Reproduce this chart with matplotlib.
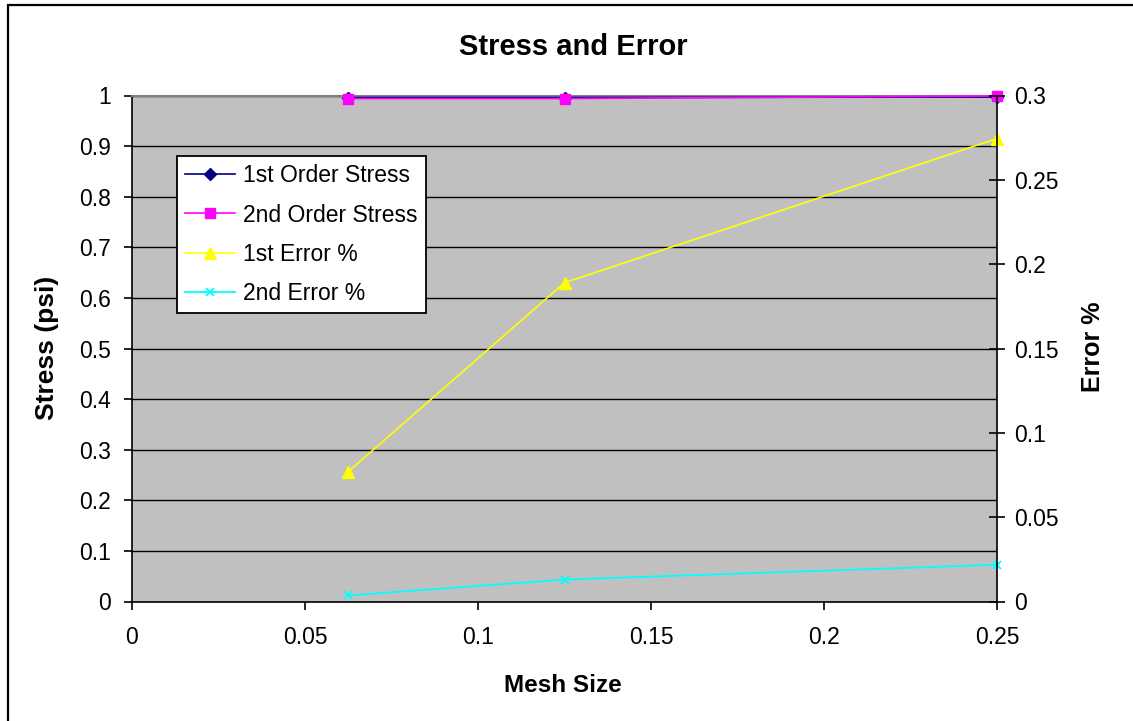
import matplotlib.pyplot as plt
from matplotlib.patches import Rectangle

plt.rcParams['font.family'] = ['Liberation Sans', 'DejaVu Sans']

mesh_size = [0.0625, 0.125, 0.25]
stress_1st = [0.996, 0.996, 0.997]
stress_2nd = [0.994, 0.994, 0.999]
error_1st = [0.077, 0.189, 0.2745]
error_2nd = [0.0036, 0.013, 0.0218]

x_ticks = [0, 0.05, 0.1, 0.15, 0.2, 0.25]
x_labels = ['0', '0.05', '0.1', '0.15', '0.2', '0.25']
left_ticks = [0, 0.1, 0.2, 0.3, 0.4, 0.5, 0.6, 0.7, 0.8, 0.9, 1]
left_labels = ['0', '0.1', '0.2', '0.3', '0.4', '0.5', '0.6', '0.7', '0.8', '0.9', '1']
right_ticks = [0, 0.05, 0.1, 0.15, 0.2, 0.25, 0.3]
right_labels = ['0', '0.05', '0.1', '0.15', '0.2', '0.25', '0.3']

W, H = 1133, 721
fig = plt.figure(figsize=(W / 100, H / 100), dpi=100)
# chart border
fig.patches.append(Rectangle((8 / W, -0.01), 1.1, 1 - 5 / H + 0.01,
                             transform=fig.transFigure, fill=False,
                             edgecolor='black', linewidth=1.6))

ax = fig.add_axes([132 / W, 1 - 601.5 / H, 865 / W, 506 / H])
ax.set_facecolor('#c0c0c0')
ax.set_xlim(0, 0.25)
ax.set_ylim(0, 1)
for y in left_ticks[1:]:
    ax.axhline(y, color='black', linewidth=1, zorder=1)
ax.spines['top'].set_color('#808080')
ax.spines['top'].set_linewidth(1.5)
ax.spines['right'].set_visible(False)
ax.spines['bottom'].set_linewidth(1.2)
ax.spines['left'].set_linewidth(1.2)

l1, = ax.plot(mesh_size, stress_1st, color='#000080', marker='D', markersize=6,
              linewidth=1.2, label='1st Order Stress', zorder=3, clip_on=False)
l2, = ax.plot(mesh_size, stress_2nd, color='#ff00ff', marker='s', markersize=6.5,
              linewidth=1.2, label='2nd Order Stress', zorder=4, clip_on=False)

ax.set_xticks(x_ticks)
ax.set_xticklabels(x_labels)
ax.set_yticks(left_ticks)
ax.set_yticklabels(left_labels)
ax.tick_params(axis='y', direction='out', length=6, width=1.2, labelsize=16.5, pad=9)
ax.tick_params(axis='x', direction='out', length=6, width=1.2, labelsize=16.5, pad=12)

ax2 = ax.twinx()
ax2.set_ylim(0, 0.3)
for s in ['top', 'left', 'bottom']:
    ax2.spines[s].set_visible(False)
ax2.spines['right'].set_linewidth(1.2)
l3, = ax2.plot(mesh_size, error_1st, color='#ffff00', marker='^', markersize=8,
               linewidth=1.2, label='1st Error %', clip_on=False)
l4, = ax2.plot(mesh_size, error_2nd, color='#00ffff', marker='x', markersize=6,
               markeredgewidth=1.3, linewidth=1.3, label='2nd Error %', clip_on=False)
ax2.set_yticks(right_ticks)
ax2.set_yticklabels(right_labels)
ax2.tick_params(direction='inout', length=12, width=1.2, labelsize=16.5, pad=6)

leg = ax.legend(handles=[l1, l2, l3, l4], loc='upper left',
                bbox_to_anchor=((176.5 - 132) / 865, (601.5 - 156) / 506),
                frameon=True, fancybox=False, edgecolor='black', fontsize=16.5,
                handlelength=2.2, handletextpad=0.35, borderpad=0.37,
                labelspacing=0.7, borderaxespad=0, framealpha=1)
leg.get_frame().set_linewidth(1.3)
leg.set_zorder(10)

fig.text(573 / W, 1 - 47 / H, 'Stress and Error', ha='center', va='center',
         fontsize=21, fontweight='bold')
fig.text(563 / W, 1 - 685 / H, 'Mesh Size', ha='center', va='center',
         fontsize=17.5, fontweight='bold')
fig.text(47 / W, 1 - 348 / H, 'Stress (psi)', ha='center', va='center',
         rotation=90, fontsize=19, fontweight='bold')
fig.text(1093 / W, 1 - 347 / H, 'Error %', ha='center', va='center',
         rotation=90, fontsize=18, fontweight='bold')

fig.savefig('out.png', dpi=100)
